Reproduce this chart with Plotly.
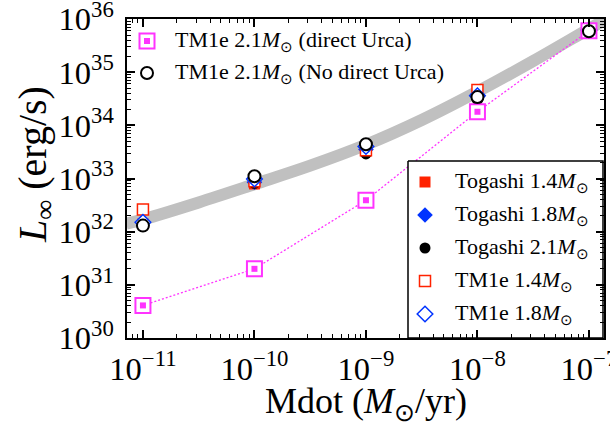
import plotly.graph_objects as go

# ---------------- data ----------------
mdot = [1e-11, 1e-10, 1e-9, 1e-8, 1e-7]

togashi_14 = [1.4e32, 7.9e32, 3.3e33, 4.4e34, 6.3e35]
togashi_18 = [1.5e32, 8.5e32, 3.5e33, 3.8e34, 6.3e35]
togashi_21 = [1.3e32, 8.1e32, 2.9e33, 3.0e34, 6.6e35]
tm1e_14 = [2.6e32, 8.9e32, 3.4e33, 4.6e34, 6.2e35]
tm1e_18 = [1.5e32, 9.8e32, 4.0e33, 3.6e34, 6.2e35]
tm1e_21_du = [4.1e30, 2.0e31, 3.9e32, 1.8e34, 6.0e35]
tm1e_21_nodu = [1.3e32, 1.1e33, 4.4e33, 3.4e34, 5.9e35]

# grey reference curve
fit_mdot = [10**-11.15, 1e-11, 10**-10.5, 1e-10, 10**-9.5, 1e-9,
            10**-8.5, 1e-8, 10**-7.5, 1e-7, 10**-6.85]
fit_L = [1.41e32, 1.70e32, 3.55e32, 7.8e32, 1.74e33, 4.3e33,
         1.26e34, 4.3e34, 1.62e35, 6.5e35, 9.8e35]

legend1_labels = ["TM1e 2.1<i>M</i><sub>⊙</sub> (direct Urca)",
                  "TM1e 2.1<i>M</i><sub>⊙</sub> (No direct Urca)"]
legend2_labels = ["Togashi 1.4<i>M</i><sub>⊙</sub>",
                  "Togashi 1.8<i>M</i><sub>⊙</sub>",
                  "Togashi 2.1<i>M</i><sub>⊙</sub>",
                  "TM1e 1.4<i>M</i><sub>⊙</sub>",
                  "TM1e 1.8<i>M</i><sub>⊙</sub>"]

# ---------------- styling ----------------
FONT = "Liberation Serif"
RED = "#ff2200"
BLUE = "#0033ff"
MAG = "#ff33ff"
W, H = 610, 424
PX_L, PX_R, PX_T, PX_B = 127, 604, 19, 338

styles = {
    "tog14": dict(symbol="square", size=11, color=RED, line=dict(width=0)),
    "tog18": dict(symbol="diamond", size=12, color=BLUE, line=dict(width=0)),
    "tog21": dict(symbol="circle", size=11, color="black", line=dict(width=0)),
    "tm14": dict(symbol="square", size=11, color="white", line=dict(color=RED, width=1.5)),
    "tm18": dict(symbol="diamond", size=12, color="white", line=dict(color=BLUE, width=1.5)),
    "du_outer": dict(symbol="square", size=15, color="white", line=dict(color=MAG, width=2)),
    "du_inner": dict(symbol="square", size=6, color=MAG, line=dict(width=0)),
    "nodu": dict(symbol="circle", size=12, color="white", line=dict(color="black", width=2)),
}

fig = go.Figure()

# grey band
fig.add_trace(go.Scatter(x=fit_mdot, y=fit_L, mode="lines",
                         line=dict(color="#c0c0c0", width=12, shape="spline"),
                         hoverinfo="skip"))

series = [(togashi_14, "tog14"), (togashi_18, "tog18"), (togashi_21, "tog21"),
          (tm1e_14, "tm14"), (tm1e_18, "tm18")]
for ys, key in series:
    fig.add_trace(go.Scatter(x=mdot, y=ys, mode="markers", marker=styles[key]))

fig.add_trace(go.Scatter(x=mdot, y=tm1e_21_du, mode="lines+markers",
                         line=dict(color=MAG, width=1.3, dash="2px,2px"),
                         marker=styles["du_outer"]))
fig.add_trace(go.Scatter(x=mdot, y=tm1e_21_du, mode="markers", marker=styles["du_inner"]))
fig.add_trace(go.Scatter(x=mdot, y=tm1e_21_nodu, mode="markers", marker=styles["nodu"]))

# ---------------- custom legends on a pixel-coordinate overlay ----------------
def pxtrace(xs, ys, **kw):
    fig.add_trace(go.Scatter(x=xs, y=ys, xaxis="x2", yaxis="y2", hoverinfo="skip", **kw))


def px_to_paper_x(px):
    return (px - PX_L) / (PX_R - PX_L)


def px_to_paper_y(py):
    return (PX_B - py) / (PX_B - PX_T)


annotations = []
LEG_SIZE = 22

# legend 1 (no frame)
l1_rows = [41, 73]
l1_mx, l1_tx = 147, 173
pxtrace([l1_mx], [l1_rows[0]], mode="markers", marker=styles["du_outer"])
pxtrace([l1_mx], [l1_rows[0]], mode="markers", marker=styles["du_inner"])
pxtrace([l1_mx], [l1_rows[1]], mode="markers", marker=styles["nodu"])
for lab, yy in zip(legend1_labels, l1_rows):
    annotations.append(dict(x=px_to_paper_x(l1_tx), y=px_to_paper_y(yy),
                            xref="paper", yref="paper", text=lab,
                            showarrow=False, xanchor="left", yanchor="middle",
                            font=dict(family=FONT, size=LEG_SIZE, color="black")))

# legend 2 (framed box)
bx0, bx1, by0, by1 = 408, 603, 161, 338
pxtrace([bx0, bx1, bx1, bx0, bx0], [by0, by0, by1, by1, by0], mode="lines",
        fill="toself", fillcolor="white", line=dict(color="black", width=1.5))
l2_rows = [182, 215, 248, 281, 314]
l2_mx, l2_tx = 425, 453
for key, lab, yy in zip(["tog14", "tog18", "tog21", "tm14", "tm18"], legend2_labels, l2_rows):
    pxtrace([l2_mx], [yy], mode="markers", marker=styles[key])
    annotations.append(dict(x=px_to_paper_x(l2_tx), y=px_to_paper_y(yy),
                            xref="paper", yref="paper", text=lab,
                            showarrow=False, xanchor="left", yanchor="middle",
                            font=dict(family=FONT, size=LEG_SIZE, color="black")))

# axis titles
annotations.append(dict(x=px_to_paper_x(366), y=px_to_paper_y(403),
                        xref="paper", yref="paper",
                        text="Mdot (<i>M</i><sub>⊙</sub>/yr)", showarrow=False,
                        xanchor="center", yanchor="middle",
                        font=dict(family=FONT, size=36, color="black")))
annotations.append(dict(x=px_to_paper_x(35), y=px_to_paper_y(165),
                        xref="paper", yref="paper",
                        text="<i>L</i><sub>∞</sub> (erg/s)", showarrow=False,
                        textangle=-90, xanchor="center", yanchor="middle",
                        font=dict(family=FONT, size=40, color="black")))

axis_common = dict(
    showline=True, linecolor="black", linewidth=2, mirror="allticks",
    ticks="inside", ticklen=8, tickwidth=1.5, tickcolor="black",
    showgrid=False, zeroline=False, automargin=False,
    tickfont=dict(family=FONT, size=26, color="black"),
    exponentformat="power", showexponent="all",
    ticklabeloverflow="allow",
    minor=dict(ticks="inside", ticklen=4, tickwidth=1, tickcolor="black",
               dtick="D1", showgrid=False),
)

fig.update_layout(
    width=W, height=H,
    margin=dict(l=PX_L, r=W - PX_R, t=PX_T, b=H - PX_B, pad=0),
    paper_bgcolor="white", plot_bgcolor="white",
    showlegend=False,
    template="none",
    xaxis=dict(type="log", range=[-11.143, -6.865], dtick=1, ticklabelstandoff=2,
               **axis_common),
    yaxis=dict(type="log", range=[30, 36], dtick=1, ticklabelstandoff=6,
               **axis_common),
    xaxis2=dict(overlaying="x", anchor="y2", range=[PX_L, PX_R], visible=False,
                fixedrange=True),
    yaxis2=dict(overlaying="y", anchor="x2", range=[PX_B, PX_T], visible=False,
                fixedrange=True),
    annotations=annotations,
)

fig.write_html("out.html")
